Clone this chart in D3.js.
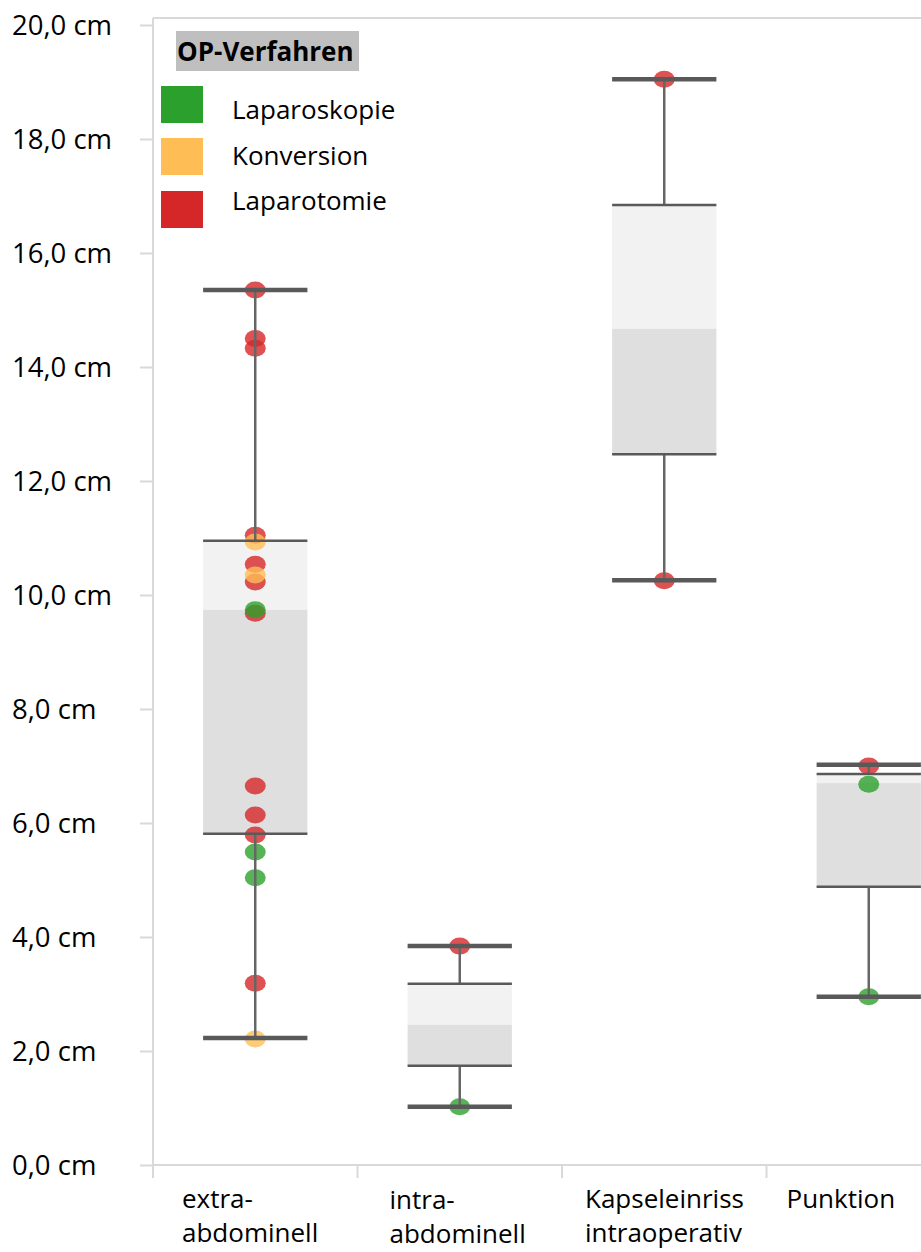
<!DOCTYPE html>
<html><head><meta charset="utf-8">
<script src="https://cdn.jsdelivr.net/npm/d3@7"></script>
<style>html,body{margin:0;padding:0;background:#fff;}svg{display:block;}text{font-family:"Open Sans",sans-serif;}</style>
</head><body>
<svg id="c" width="921" height="1252"></svg>
<script>
// ---- data ----
const categories = ["extra-abdominell","intra-abdominell","Kapseleinriss intraoperativ","Punktion"];
const categoryLines = [["extra-","abdominell"],["intra-","abdominell"],["Kapseleinriss","intraoperativ"],["Punktion"]];
const whiskerLow  = [2.23, 1.02, 10.26, 2.95];
const q1          = [5.81, 1.74, 12.47, 4.88];
const median      = [9.74, 2.46, 14.67, 6.70];
const q3          = [10.95, 3.18, 16.84, 6.86];
const whiskerHigh = [15.35, 3.84, 19.05, 7.02];
const groups = ["Laparoskopie","Konversion","Laparotomie"];
const groupColors = ["#2ca02c","#ffbe55","#d62728"];
// points: [category index, value, group index]
const points = [
  [0,15.35,2],[0,14.50,2],[0,14.33,2],[0,11.05,2],[0,10.93,1],[0,10.54,2],[0,10.23,2],[0,10.35,1],
  [0,9.68,2],[0,9.74,0],[0,6.65,2],[0,6.14,2],[0,5.79,2],[0,5.49,0],[0,5.04,0],[0,3.19,2],[0,2.21,1],
  [1,3.84,2],[1,1.02,0],
  [2,19.05,2],[2,10.25,2],
  [3,7.00,2],[3,6.68,0],[3,2.95,0]
];
const yTicks = [0,2,4,6,8,10,12,14,16,18,20];
const legendTitle = "OP-Verfahren";

// ---- layout ----
const svg = d3.select("#c");
const axisX = 153, plotTop = 18;
const y = d3.scaleLinear().domain([0,20]).range([1165,25]);
const x = d3.scaleBand().domain(categories).range([153,971]).paddingInner(0).paddingOuter(0);
const boxW = x.bandwidth()*0.51;
const cx = i => x(categories[i]) + x.bandwidth()/2;
const grid = "#d9d9d9", dark = "#595959";

// plot frame (top line)
svg.append("line").attr("x1",axisX).attr("x2",921).attr("y1",plotTop).attr("y2",plotTop)
  .attr("stroke",grid).attr("stroke-width",2);

// y axis
const yAxis = d3.axisLeft(y).tickValues(yTicks).tickSize(13)
  .tickFormat(d => d.toFixed(1).replace(".",",")+" cm");
const ya = svg.append("g").attr("transform",`translate(${axisX},0)`).call(yAxis);
ya.select(".domain").attr("stroke",grid).attr("stroke-width",2).attr("d",`M0,${plotTop}V1178`);
ya.selectAll(".tick line").attr("stroke",grid).attr("stroke-width",2);
ya.selectAll(".tick text").attr("x",12-axisX).attr("text-anchor","start")
  .attr("font-family","Open Sans").attr("font-size",27.5).attr("fill","#000").attr("dy","0.34em");

// x axis
const xa = svg.append("g");
xa.append("line").attr("x1",axisX).attr("x2",921).attr("y1",y(0)).attr("y2",y(0))
  .attr("stroke",grid).attr("stroke-width",2);
xa.selectAll("line.tk").data(categories).join("line").attr("class","tk")
  .attr("x1",d=>x(d)).attr("x2",d=>x(d)).attr("y1",y(0)).attr("y2",1178)
  .attr("stroke",grid).attr("stroke-width",2);
const labelDx = [29, 32, 23, 20];
const labelDy = [0, 1, 0, 0];
categories.forEach((c,i)=>{
  const t = xa.append("text").attr("font-size",26).attr("fill","#000");
  categoryLines[i].forEach((ln,j)=>{
    t.append("tspan").attr("x",x(c)+labelDx[i]).attr("y",1208+labelDy[i]+j*34).text(ln);
  });
});

// boxes
const boxes = svg.append("g");
categories.forEach((c,i)=>{
  const x0 = cx(i)-boxW/2;
  boxes.append("rect").attr("x",x0).attr("width",boxW)
    .attr("y",y(q3[i])).attr("height",y(median[i])-y(q3[i])).attr("fill","#f2f2f2");
  boxes.append("rect").attr("x",x0).attr("width",boxW)
    .attr("y",y(median[i])).attr("height",y(q1[i])-y(median[i])).attr("fill","#dfdfdf");
});

// points
svg.append("g").selectAll("ellipse").data(points).join("ellipse")
  .attr("cx",d=>cx(d[0])).attr("cy",d=>y(d[1])).attr("rx",10.5).attr("ry",8.5)
  .attr("fill",d=>groupColors[d[2]]).attr("fill-opacity",0.8);

// whiskers & lines
const lines = svg.append("g").attr("stroke",dark);
categories.forEach((c,i)=>{
  const x0 = cx(i)-boxW/2, x1 = cx(i)+boxW/2;
  lines.append("line").attr("x1",cx(i)).attr("x2",cx(i)).attr("y1",y(whiskerHigh[i])).attr("y2",y(q3[i]))
    .attr("stroke","#666").attr("stroke-width",2.5);
  lines.append("line").attr("x1",cx(i)).attr("x2",cx(i)).attr("y1",y(q1[i])).attr("y2",y(whiskerLow[i]))
    .attr("stroke","#666").attr("stroke-width",2.5);
  [q1[i],q3[i]].forEach(v=>lines.append("line").attr("x1",x0).attr("x2",x1).attr("y1",y(v)).attr("y2",y(v)).attr("stroke-width",2.5));
  [whiskerLow[i],whiskerHigh[i]].forEach(v=>lines.append("line").attr("x1",x0).attr("x2",x1).attr("y1",y(v)).attr("y2",y(v)).attr("stroke-width",4.5));
});

// legend
const lg = svg.append("g");
lg.append("rect").attr("x",176).attr("y",31).attr("width",183).attr("height",40).attr("fill","#bfbfbf");
lg.append("text").attr("x",177).attr("y",61).attr("font-size",26).attr("font-weight","bold").attr("fill","#000").text(legendTitle);
groups.forEach((g,i)=>{
  const sy = [86,138,191][i];
  lg.append("rect").attr("x",161).attr("y",sy).attr("width",42).attr("height",37).attr("fill",groupColors[i]);
  lg.append("text").attr("x",232).attr("y",[119,165,210][i]).attr("font-size",26).attr("fill","#000").text(g);
});
</script>
</body></html>
